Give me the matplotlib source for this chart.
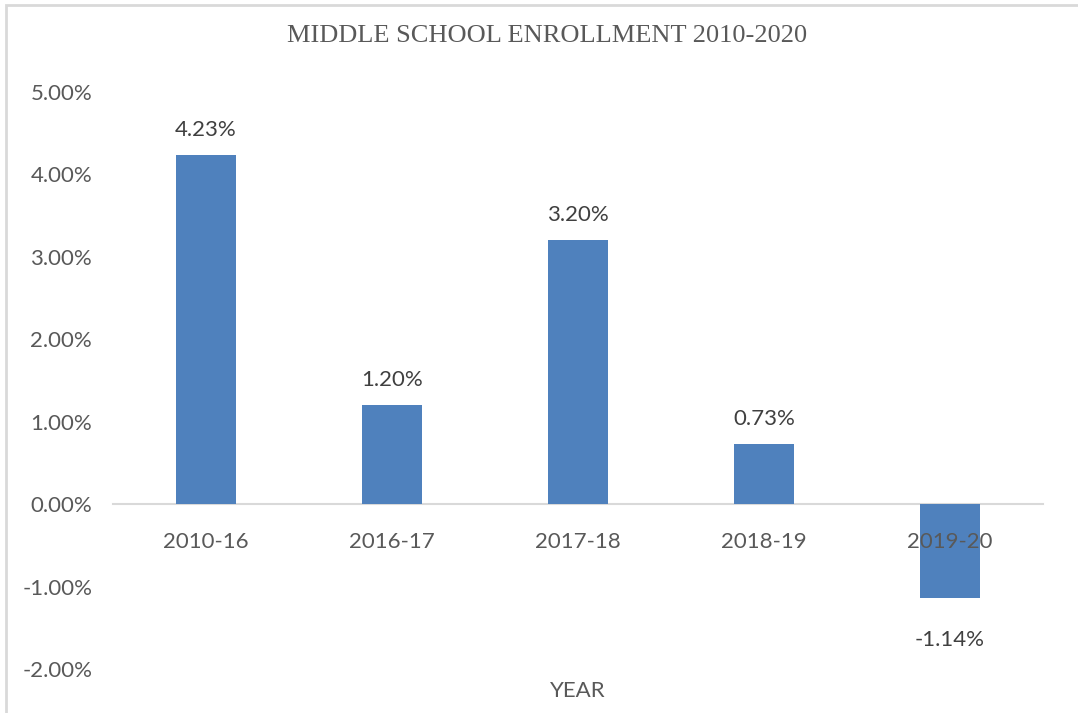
import matplotlib
matplotlib.use("Agg")
import matplotlib.pyplot as plt
from matplotlib.patches import Rectangle
from matplotlib.ticker import FuncFormatter

# enrollment change by school year (percent)
years = ["2010-16", "2016-17", "2017-18", "2018-19", "2019-20"]
change_pct = [4.23, 1.20, 3.20, 0.73, -1.14]
y_ticks = [-2, -1, 0, 1, 2, 3, 4, 5]

BAR = "#4F81BD"
TXT = "#595959"
LINE = "#D9D9D9"
SANS = ["Lato", "DejaVu Sans"]
FS = 16

W, H = 1078, 713
fig = plt.figure(figsize=(W / 100, H / 100), dpi=100)
ax = fig.add_axes([113 / W, 1 - 669 / H, (1043 - 113) / W, (669 - 92) / H])

xs = range(len(years))
ax.bar(xs, change_pct, width=0.32, color=BAR, zorder=1)
# keep category labels on top of the negative bar
ax.set_axisbelow(False)

for x, v in zip(xs, change_pct):
    off = 18 if v >= 0 else -30
    ax.annotate(f"{v:.2f}%", (x, v), xytext=(0, off), textcoords="offset points",
                ha="center", va="center", fontsize=FS, color="#404040",
                family=SANS)

ax.set_xlim(-0.5, len(years) - 0.5)
ax.set_ylim(y_ticks[0], y_ticks[-1])
ax.set_yticks(y_ticks)
ax.yaxis.set_major_formatter(FuncFormatter(lambda v, _: f"{v:.2f}%"))
ax.set_xticks(list(xs))
ax.set_xticklabels(years)

for s in ("top", "right", "left"):
    ax.spines[s].set_visible(False)
ax.spines["bottom"].set_position(("data", 0))
ax.spines["bottom"].set_color(LINE)
ax.spines["bottom"].set_linewidth(1.5)
ax.spines["bottom"].set_zorder(0.5)

ax.tick_params(axis="both", length=0, colors=TXT, labelsize=FS)
ax.tick_params(axis="x", pad=20)
ax.tick_params(axis="y", pad=15)
for lab in ax.get_xticklabels() + ax.get_yticklabels():
    lab.set_family(SANS)

fig.text(547 / W, 1 - 36 / H, "MIDDLE SCHOOL ENROLLMENT 2010-2020",
         ha="center", va="center", fontsize=19, color=TXT,
         family="Liberation Serif")
fig.text(578 / W, 1 - 691 / H, "YEAR", ha="center", va="center",
         fontsize=FS, color=TXT, family=SANS)

# chart frame (only top and left edges show)
fig.add_artist(Rectangle((6 / W, -0.05), 1.1, 1 - 5 / H + 0.05,
                         transform=fig.transFigure, fill=False,
                         edgecolor=LINE, linewidth=2))

fig.savefig("out.png", dpi=100)
